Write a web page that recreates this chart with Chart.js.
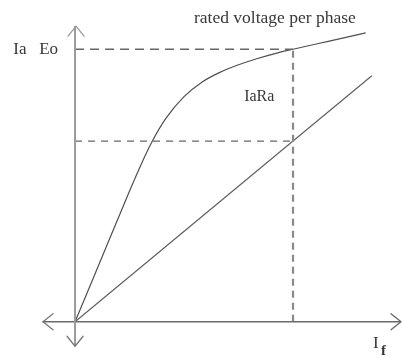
<!DOCTYPE html>
<html>
<head>
<meta charset="utf-8">
<script src="https://cdn.jsdelivr.net/npm/chart.js@4/dist/chart.umd.min.js"></script>
<style>
  html, body { margin: 0; padding: 0; background: #fff; }
  #wrap { width: 402px; height: 358px; }
</style>
</head>
<body>
<div id="wrap"><canvas id="occChart" width="402" height="358"></canvas></div>
<script>
// Open-circuit characteristic (Eo vs If) and armature drop line (IaRa)
const fieldCurrent = [0, 1, 1.5, 1.8, 2.1, 2.5, 3, 3.5, 4, 4.5, 5, 5.5, 6, 7, 8];
const openCircuitEmf = [0, 3.2, 4.8, 5.72, 6.56, 7.46, 8.26, 8.8, 9.16, 9.43, 9.65, 9.84, 10.0, 10.3, 10.6];

const dropCurrent = [0, 6.0, 8.17];
const dropVoltage = [0, 6.63, 9.03];

const ratedField = 6.0;
const ratedVoltage = 10.0;
const ratedDrop = 6.63;

const labels = {
  yAxis: 'Ia   Eo',
  xAxis: 'I',
  xAxisSub: 'f',
  rated: 'rated voltage per phase',
  drop: 'IaRa'
};

const pts = (xs, ys) => xs.map((x, i) => ({ x: x, y: ys[i] }));

const serif = '"Liberation Serif", "DejaVu Serif", serif';

// arrows at the ends of the axes, and the text labels
const annotations = {
  id: 'annotations',
  afterDatasetsDraw(chart) {
    const { ctx, scales: { x, y } } = chart;
    const ox = x.getPixelForValue(0);
    const oy = y.getPixelForValue(0);
    const left = x.getPixelForValue(x.min);
    const right = x.getPixelForValue(x.max);
    const top = y.getPixelForValue(10.85);
    const bottom = y.getPixelForValue(-0.9);

    ctx.save();
    ctx.lineCap = 'round';
    ctx.lineJoin = 'round';

    const chevron = (px, py, dx, dy, color, w) => {
      // dx,dy = direction the arrow points to
      const len = 10, spread = 8;
      const bx = px - dx * len, by = py - dy * len;
      ctx.strokeStyle = color;
      ctx.lineWidth = w;
      ctx.beginPath();
      ctx.moveTo(bx - dy * spread, by + dx * spread);
      ctx.lineTo(px, py);
      ctx.lineTo(bx + dy * spread, by - dx * spread);
      ctx.stroke();
    };
    chevron(right - 1, oy, 1, 0, '#666', 1.3);
    chevron(left + 1, oy, -1, 0, '#777', 1.3);
    chevron(ox, bottom, 0, 1, '#777', 1.3);
    chevron(ox + 1, top, 0, -1, '#999', 1.3);

    ctx.fillStyle = '#383838';
    ctx.textBaseline = 'middle';

    ctx.font = '17px ' + serif;
    ctx.textAlign = 'right';
    ctx.fillText(labels.yAxis, ox - 17, y.getPixelForValue(ratedVoltage));

    ctx.font = '17.5px ' + serif;
    ctx.textAlign = 'center';
    ctx.fillText(labels.rated, x.getPixelForValue(5.5), y.getPixelForValue(11.12));

    ctx.font = '16px ' + serif;
    ctx.fillText(labels.drop, x.getPixelForValue(5.07), y.getPixelForValue(8.24));

    ctx.textAlign = 'left';
    ctx.font = '17px ' + serif;
    ctx.fillText(labels.xAxis, x.getPixelForValue(8.2), oy + 22);
    ctx.font = 'bold 15px ' + serif;
    ctx.fillText(labels.xAxisSub, x.getPixelForValue(8.2) + 8, oy + 29);
    ctx.restore();
  }
};

new Chart(document.getElementById('occChart').getContext('2d'), {
  type: 'scatter',
  data: {
    datasets: [
      {
        // vertical axis
        data: [{ x: 0, y: -0.9 }, { x: 0, y: 10.85 }],
        showLine: true, borderColor: '#9a9a9a', borderWidth: 2, pointRadius: 0
      },
      {
        // horizontal axis
        data: [{ x: -0.9, y: 0 }, { x: 8.97, y: 0 }],
        showLine: true, borderColor: '#6a6a6a', borderWidth: 1.5, pointRadius: 0
      },
      {
        data: [{ x: 0, y: ratedVoltage }, { x: ratedField, y: ratedVoltage }],
        showLine: true, borderColor: '#666', borderWidth: 1.5, borderDash: [9, 6], pointRadius: 0
      },
      {
        data: [{ x: 0, y: ratedDrop }, { x: ratedField, y: ratedDrop }],
        showLine: true, borderColor: '#666', borderWidth: 1.3, borderDash: [7, 6], pointRadius: 0
      },
      {
        data: [{ x: ratedField, y: 0 }, { x: ratedField, y: ratedVoltage }],
        showLine: true, borderColor: '#8a8a8a', borderWidth: 2.2, borderDash: [7, 5], pointRadius: 0
      },
      {
        label: 'Eo',
        data: pts(fieldCurrent, openCircuitEmf),
        showLine: true, borderColor: '#505050', borderWidth: 1.2, pointRadius: 0,
        cubicInterpolationMode: 'monotone'
      },
      {
        label: 'IaRa',
        data: pts(dropCurrent, dropVoltage),
        showLine: true, borderColor: '#606060', borderWidth: 1.2, pointRadius: 0
      }
    ]
  },
  options: {
    responsive: false,
    animation: false,
    layout: { padding: { left: 42, right: 0, top: 22, bottom: 9 } },
    plugins: { legend: { display: false }, tooltip: { enabled: false } },
    scales: {
      x: { type: 'linear', min: -0.91, max: 9, display: false },
      y: { type: 'linear', min: -1, max: 11, display: false }
    }
  },
  plugins: [annotations]
});
</script>
</body>
</html>
